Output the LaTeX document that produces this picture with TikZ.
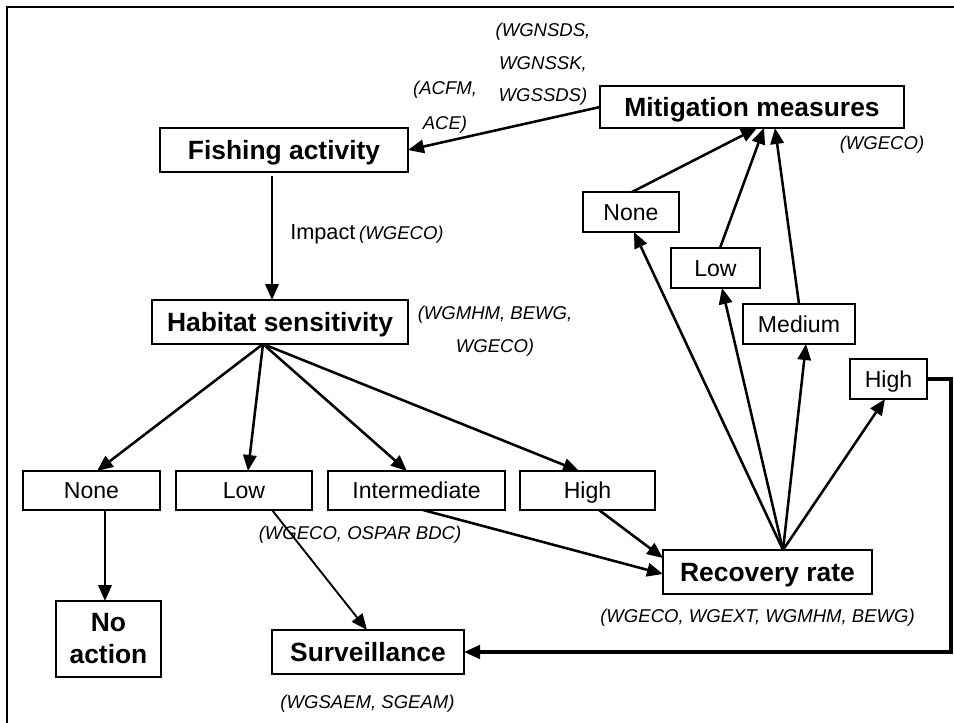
\documentclass[tikz,border=0pt]{standalone}
\usepackage{fontspec}
\setmainfont{Liberation Sans}
\usetikzlibrary{arrows.meta,calc}

\begin{document}
\begin{tikzpicture}[x=0.75pt,y=-0.75pt,
  box/.style={draw,line width=0.9pt,outer sep=0pt,inner sep=2pt,align=center},
  bigbox/.style={box,font=\fontsize{19.8}{24}\selectfont\bfseries,text height=19.1pt,text depth=4.95pt},
  twoline/.style={box,font=\fontsize{19.8}{24}\selectfont\bfseries},
  smallbox/.style={box,font=\fontsize{17.3}{20}\selectfont,text height=16.7pt,text depth=4.3pt},
  note/.style={inner sep=0pt,align=center,font=\fontsize{13.9}{24.4}\selectfont\itshape},
  link/.style={line width=1.9pt,-{Triangle[length=12pt,width=10pt]}}]

\useasboundingbox (0,0) rectangle (954,722);
\clip (0,0) rectangle (954,722);

% outer frame
\draw[line width=1.8pt] (7,7) rectangle (990,760);

% main boxes
\node[bigbox,minimum width=186pt,minimum height=33pt] (fish) at (284,150) {Fishing activity};
\node[bigbox,minimum width=228pt,minimum height=31.5pt] (mitig) at (752,107) {Mitigation measures};
\node[bigbox,minimum width=192pt,minimum height=33pt] (habitat) at (280,322) {Habitat sensitivity};
\node[twoline,minimum width=78.75pt,minimum height=57pt] (noact) at (108.5,639) {No\\action};
\node[bigbox,minimum width=144pt,minimum height=33pt] (surv) at (368,652) {Surveillance};
\node[bigbox,minimum width=156.75pt,minimum height=33pt] (recov) at (767.5,572) {Recovery rate};

% sensitivity classes
\node[smallbox,minimum width=102.75pt,minimum height=29.25pt] (none1) at (91.5,490.5) {None};
\node[smallbox,minimum width=102pt,minimum height=29.25pt] (low1) at (244,490.5) {Low};
\node[smallbox,minimum width=132.75pt,minimum height=29.25pt] (inter) at (416.5,490.5) {Intermediate};
\node[smallbox,minimum width=101.25pt,minimum height=29.25pt] (high1) at (587.5,490.5) {High};

% recovery classes
\node[smallbox,minimum width=72pt,minimum height=30pt] (none2) at (631,212) {None};
\node[smallbox,minimum width=66.75pt,minimum height=30pt] (low2) at (715.5,268) {Low};
\node[smallbox,minimum width=84pt,minimum height=30pt] (med) at (799,324) {Medium};
\node[smallbox,minimum width=57.75pt,minimum height=30pt] (high2) at (888.5,379) {High};

% responsible groups
\node[note,font=\fontsize{13.9}{26.3}\selectfont\itshape] (acfm) at (445,107.5) {(ACFM,\\ACE)};
\node[note] (wgn) at (543,64.5) {(WGNSDS,\\WGNSSK,\\WGSSDS)};
\node[note] (mitsrc) at (882,145) {(WGECO)};
\node[anchor=west,inner sep=0pt] (impact) at (290,234) {{\fontsize{16.3}{20}\selectfont Impact} {\fontsize{13.9}{20}\selectfont\itshape (WGECO)}};
\node[note] (habsrc) at (495,331) {(WGMHM, BEWG,\\WGECO)};
\node[note] (lowsrc) at (360,535) {(WGECO, OSPAR BDC)};
\node[note] (survsrc) at (367.5,704) {(WGSAEM, SGEAM)};
\node[note] (recsrc) at (757.5,618) {(WGECO, WGEXT, WGMHM, BEWG)};

% connectors
\draw[link] (mitig.west) -- (fish.east);
\draw[link] ($(fish.south west)+(112,4)$) -- ($(habitat.north west)+(120,0)$);

\coordinate (hfan) at ($(habitat.south west)+(111,0)$);
\draw[link] (hfan) -- ($(none1.north west)+(74,0)$);
\draw[link] (hfan) -- ($(low1.north west)+(72,0)$);
\draw[link] (hfan) -- ($(inter.north west)+(79,0)$);
\draw[link] (hfan) -- ($(high1.north west)+(59,0)$);

\draw[link] ($(none1.south west)+(82,0)$) -- ($(noact.north west)+(49,0)$);
\draw[link,line width=1.4pt] ($(low1.south west)+(96,0)$) -- ($(surv.north west)+(95,0)$);
\draw[link] ($(inter.south west)+(95,0)$) -- ($(recov.west)+(0,2)$);
\draw[link] ($(high1.south west)+(79,0)$) -- ($(recov.north west)+(0,8)$);

\coordinate (rfan) at ($(recov.north west)+(120,0)$);
\draw[link] (rfan) -- ($(none2.south west)+(51,0)$);
\draw[link] (rfan) -- ($(low2.south west)+(51,0)$);
\draw[link] (rfan) -- ($(med.south west)+(63,0)$);
\draw[link] (rfan) -- ($(high2.south west)+(35,0)$);

\draw[link] ($(none2.north west)+(49,0)$) -- ($(mitig.south west)+(157,0)$);
\draw[link] ($(low2.north west)+(49,0)$) -- ($(mitig.south west)+(164,0)$);
\draw[link] ($(med.north west)+(56,0)$) -- ($(mitig.south west)+(175,0)$);

\coordinate (bend) at (951,379);
\draw[link,line width=2.6pt] (high2.east) -- (bend) |- (surv.east);

\end{tikzpicture}
\end{document}
